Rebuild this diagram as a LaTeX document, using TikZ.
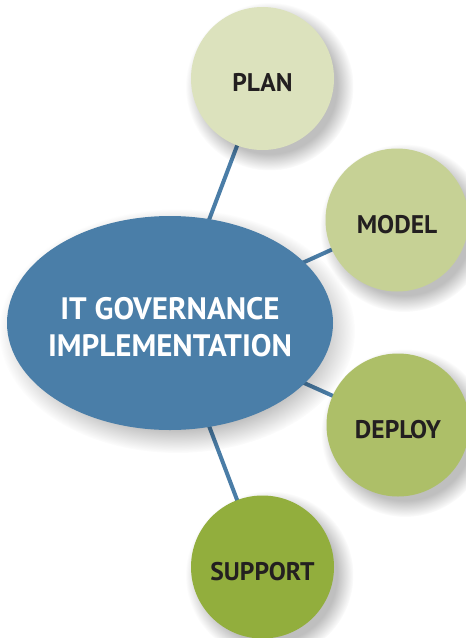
\documentclass[tikz,border=0pt]{standalone}
\usepackage{fontspec}
\setmainfont{PT Sans}
\usetikzlibrary{fadings,calc,shapes.geometric}
\definecolor{hubblue}{HTML}{4A7EA8}
\definecolor{linkblue}{HTML}{4A7DA7}
\definecolor{planc}{HTML}{DCE2BD}
\definecolor{modelc}{HTML}{C6D195}
\definecolor{deployc}{HTML}{ADBF68}
\definecolor{supportc}{HTML}{92AE3D}
\definecolor{inkdark}{HTML}{231F20}
\tikzset{
  link/.style={draw=linkblue, line width=4pt},
  stage/.style={circle, minimum size=143pt, inner sep=0pt},
  stagetext/.style={text=inkdark, inner sep=0pt, font=\bfseries\fontsize{25.5}{25.5}\selectfont},
  hub/.style={ellipse, minimum width=326pt, minimum height=214pt, inner sep=0pt, fill=hubblue},
  hubtext/.style={text=white, align=center, inner sep=0pt, font=\bfseries\fontsize{31}{37}\selectfont},
  softshadow/.style={fill=black, opacity=0.25, path fading=circle with fuzzy edge 20 percent},
}
\begin{document}
\begin{tikzpicture}[x=1pt, y=-1pt]
\useasboundingbox (0,0) rectangle (466,638);
\fill[white] (0,0) rectangle (466,638);

% centres
\coordinate (c0) at (170,323);
\coordinate (c1) at (262.5,78.5);
\coordinate (c2) at (397,220);
\coordinate (c3) at (398,425);
\coordinate (c4) at (262.5,567);

% connectors behind everything
\draw[link] (c0) -- (c1);
\draw[link] (c0) -- (c2);
\draw[link] (c0) -- (c3);
\draw[link] (c0) -- (c4);

% soft shadows
\fill[softshadow] ($(c0)+(7,8)$) ellipse (178 and 122);
\foreach \c in {c1,c2,c3,c4}
  \fill[softshadow] ($(\c)+(7,8)$) circle (84);

% hub
\node[hub] (hub) at (c0) {};
\node[hubtext] (hubtxt) at ($(c0)+(0,4)$) {IT GOVERNANCE\\IMPLEMENTATION};

% stages
\node[stage, fill=planc] (plan) at (c1) {};
\node[stage, fill=modelc] (model) at (c2) {};
\node[stage, fill=deployc] (deploy) at (c3) {};
\node[stage, fill=supportc] (support) at (c4) {};

\node[stagetext] (plantxt) at ($(plan.center)+(0,4.5)$) {PLAN};
\node[stagetext] (modeltxt) at ($(model.center)+(0,4.5)$) {MODEL};
\node[stagetext] (deploytxt) at ($(deploy.center)+(0,4.5)$) {DEPLOY};
\node[stagetext] (supporttxt) at ($(support.center)+(0,4.5)$) {SUPPORT};
\end{tikzpicture}
\end{document}
